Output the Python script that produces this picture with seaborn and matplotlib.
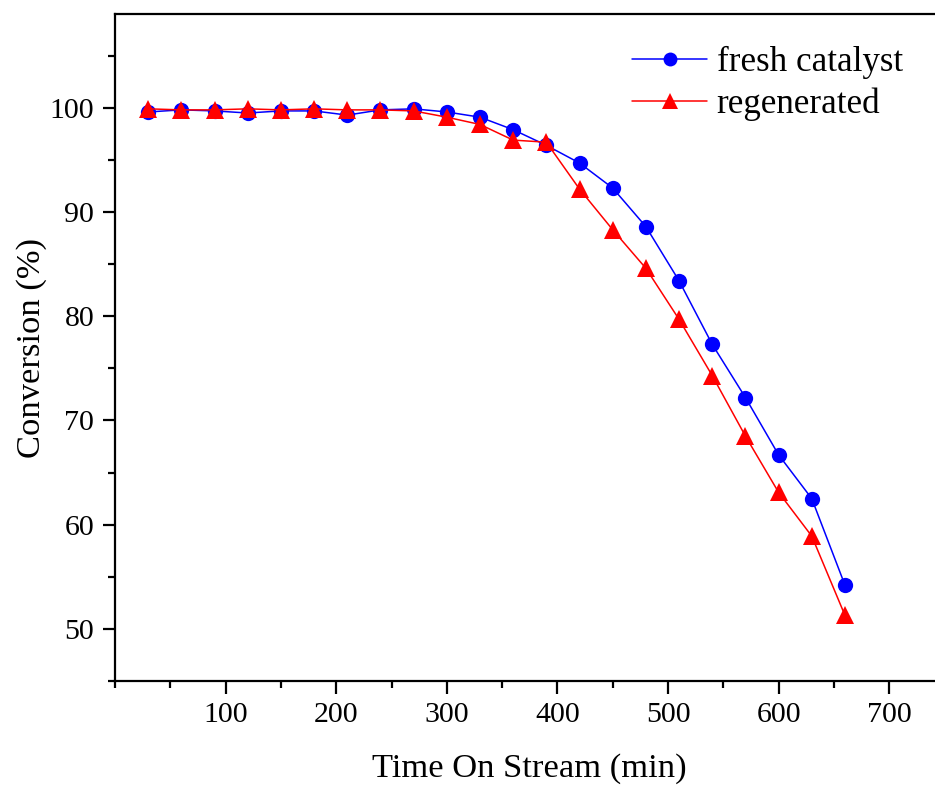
import matplotlib
matplotlib.use("Agg")
import matplotlib.pyplot as plt
import seaborn as sns
import pandas as pd
from matplotlib.ticker import MultipleLocator

time_min = [30, 60, 90, 120, 150, 180, 210, 240, 270, 300, 330, 360, 390, 420,
            450, 480, 510, 540, 570, 600, 630, 660]
fresh = [99.6, 99.8, 99.7, 99.5, 99.7, 99.7, 99.3, 99.8, 99.9, 99.6, 99.1, 97.9,
         96.4, 94.7, 92.3, 88.6, 83.4, 77.3, 72.2, 66.7, 62.5, 54.2]
regen = [99.9, 99.8, 99.8, 99.9, 99.8, 99.9, 99.8, 99.8, 99.7, 99.1, 98.4, 96.9,
         96.7, 92.2, 88.3, 84.6, 79.7, 74.3, 68.5, 63.1, 58.9, 51.3]
series_names = ["fresh catalyst", "regenerated"]

df = pd.concat([
    pd.DataFrame({"time": time_min, "conv": fresh, "series": series_names[0]}),
    pd.DataFrame({"time": time_min, "conv": regen, "series": series_names[1]}),
])

sns.set_style("ticks")
plt.rcParams["font.family"] = ["Liberation Serif", "DejaVu Serif"]
plt.rcParams["text.color"] = "black"
plt.rcParams["axes.labelcolor"] = "black"
plt.rcParams["xtick.color"] = "black"
plt.rcParams["ytick.color"] = "black"

fig = plt.figure(figsize=(9.35, 7.86), dpi=100)
ax = fig.add_axes([115 / 935, 105 / 786, 829.5 / 935, 667 / 786])

sns.lineplot(data=df, x="time", y="conv", hue="series", style="series",
             palette={"fresh catalyst": "#0000FF", "regenerated": "#FF0000"},
             markers={"fresh catalyst": "o", "regenerated": "^"},
             dashes=False, markersize=11, markeredgewidth=0, linewidth=1.1,
             ax=ax, legend=True)
for ln in ax.lines:
    if ln.get_marker() == "^":
        ln.set_markersize(12.5)

ax.set_xlim(0, 750)
ax.set_ylim(45, 109)
ax.xaxis.set_minor_locator(MultipleLocator(50))
ax.yaxis.set_minor_locator(MultipleLocator(5))
ax.set_xticks([100, 200, 300, 400, 500, 600, 700])
ax.set_yticks([50, 60, 70, 80, 90, 100])

for s in ax.spines.values():
    s.set_linewidth(1.6)
    s.set_color("black")
ax.tick_params(axis="both", which="major", direction="out", length=9, width=1.6,
               labelsize=21.5, pad=6, colors="black")
ax.tick_params(axis="both", which="minor", direction="out", length=5, width=1.6)

ax.set_xlabel("Time On Stream (min)", fontsize=24.8, labelpad=18)
ax.set_ylabel("Conversion (%)", fontsize=24.8, labelpad=2)

leg = ax.legend(title=None, frameon=False, fontsize=25.2, loc="upper left",
                bbox_to_anchor=(632 / 935, 1 - 46 / 786), bbox_transform=fig.transFigure,
                borderpad=0, borderaxespad=0, handlelength=2.15, handletextpad=0.27,
                labelspacing=0.25, markerscale=1.0)
for h in leg.legend_handles:
    h.set_markersize(10 if h.get_marker() == "o" else 11.5)

fig.savefig("out.png", dpi=100)
